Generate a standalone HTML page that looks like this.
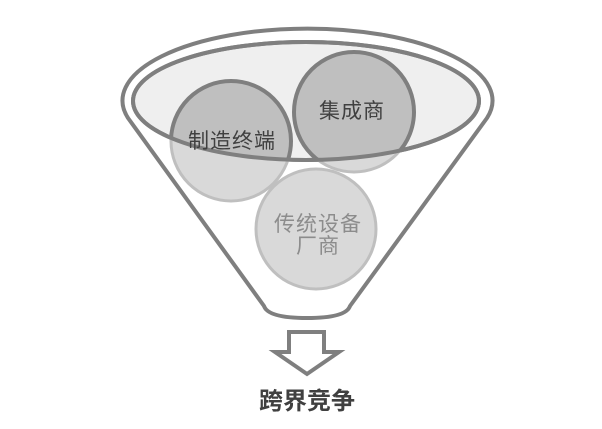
<!DOCTYPE html>
<html><head><meta charset="utf-8"><style>
html,body{margin:0;padding:0;background:#fff;width:602px;height:429px;overflow:hidden}
text{font-family:"Liberation Sans","Noto Sans CJK SC",sans-serif}
</style></head><body>
<svg width="602" height="429" viewBox="0 0 602 429" xmlns="http://www.w3.org/2000/svg">
<defs>
<clipPath id="ell"><ellipse cx="306" cy="101" rx="173" ry="59"/></clipPath>
</defs>
<path d="M128,118 A185,72 0 1 1 487,118 L350,306 Q346,318 307,318 Q268,318 264,306 Z" fill="#fff" stroke="#7f7f7f" stroke-width="4" stroke-linejoin="round"/>
<ellipse cx="306" cy="101" rx="173" ry="59" fill="#efefef" stroke="#7f7f7f" stroke-width="4"/>
<circle cx="231" cy="141" r="60" fill="#d9d9d9" stroke="#bfbfbf" stroke-width="3"/>
<circle cx="354" cy="112" r="60" fill="#d9d9d9" stroke="#bfbfbf" stroke-width="3"/>
<circle cx="316" cy="229" r="60" fill="#d9d9d9" stroke="#bfbfbf" stroke-width="3"/>
<g clip-path="url(#ell)">
<circle cx="231" cy="141" r="60" fill="#bfbfbf" stroke="#7f7f7f" stroke-width="4"/>
<circle cx="354" cy="112" r="60" fill="#bfbfbf" stroke="#7f7f7f" stroke-width="4"/>
</g>
<ellipse cx="306" cy="101" rx="173" ry="59" fill="none" stroke="#7f7f7f" stroke-width="4"/>
<text x="232" y="148" font-size="21" letter-spacing="1" fill="#404040" text-anchor="middle">制造终端</text>
<text x="352" y="118" font-size="21" letter-spacing="1" fill="#404040" text-anchor="middle">集成商</text>
<text x="318" y="231" font-size="21" letter-spacing="1" fill="#8c8c8c" text-anchor="middle">传统设备</text>
<text x="318" y="253" font-size="21" letter-spacing="1" fill="#8c8c8c" text-anchor="middle">厂商</text>
<path d="M289,332 L324,332 L324,352 L339,352 L307,374 L275,352 L289,352 Z" fill="#fff" stroke="#7f7f7f" stroke-width="4" stroke-linejoin="miter"/>
<text x="307" y="409" font-size="24" font-weight="bold" fill="#404040" text-anchor="middle">跨界竞争</text>
</svg>
</body></html>
